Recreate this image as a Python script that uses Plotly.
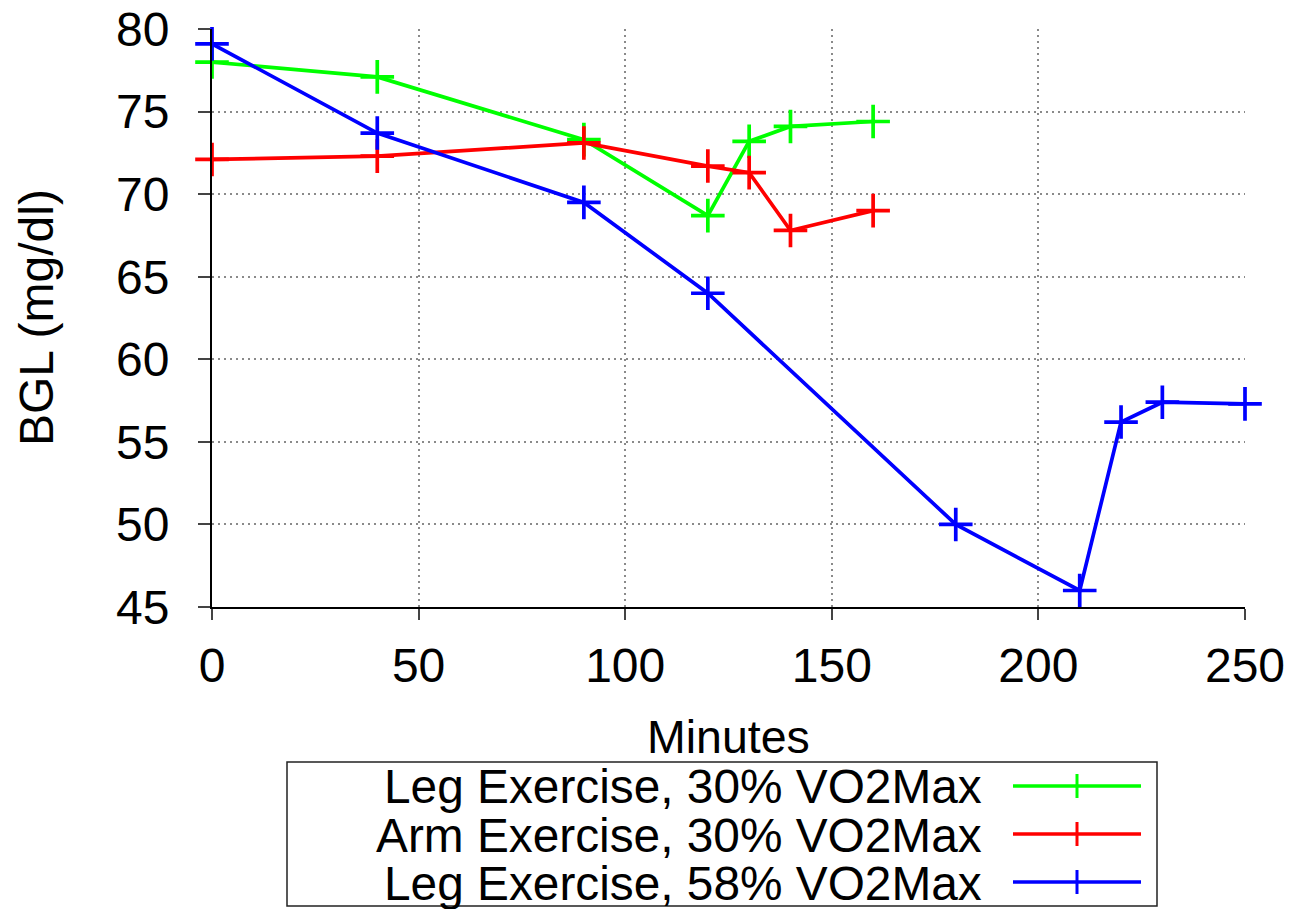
import plotly.graph_objects as go

# ---- data ----
leg30_x = [0, 40, 90, 120, 130, 140, 160]
leg30_y = [78.0, 77.1, 73.3, 68.7, 73.2, 74.1, 74.4]

arm30_x = [0, 40, 90, 120, 130, 140, 160]
arm30_y = [72.1, 72.3, 73.1, 71.7, 71.3, 67.8, 69.0]

leg58_x = [0, 40, 90, 120, 180, 210, 220, 230, 250]
leg58_y = [79.1, 73.7, 69.5, 64.0, 50.0, 46.0, 56.2, 57.4, 57.3]

series_names = ["Leg Exercise, 30% VO2Max", "Arm Exercise, 30% VO2Max", "Leg Exercise, 58% VO2Max"]
series_colors = ["#00ff00", "#ff0000", "#0000ff"]

x_ticks = [0, 50, 100, 150, 200, 250]
y_ticks = [45, 50, 55, 60, 65, 70, 75, 80]

FONT = "Liberation Sans, Arial, Helvetica, sans-serif"

W, H = 1308, 909
L, R, T, B = 212, 63, 29, 302
PW, PH = W - L - R, H - T - B


def px(xp):
    return (xp - L) / PW


def py(yp):
    return (H - B - yp) / PH


fig = go.Figure()
for xs, ys, name, col in zip([leg30_x, arm30_x, leg58_x], [leg30_y, arm30_y, leg58_y], series_names, series_colors):
    fig.add_trace(go.Scatter(
        x=xs, y=ys, name=name, mode="lines+markers",
        line=dict(color=col, width=3.7),
        marker=dict(symbol="cross-thin", size=24, line=dict(color=col, width=3.7), color=col),
        cliponaxis=False, showlegend=False, hoverinfo="skip",
    ))

shapes = []
annotations = []

# legend box
shapes.append(dict(type="rect", xref="paper", yref="paper",
                   x0=px(287), x1=px(1157), y0=py(906), y1=py(762),
                   line=dict(color="#222", width=1.5), fillcolor="white", layer="above"))
row_y = [787, 835, 883]
for name, col, ry in zip(series_names, series_colors, row_y):
    annotations.append(dict(xref="paper", yref="paper", x=px(983), y=py(ry),
                            xanchor="right", yanchor="middle", showarrow=False, borderpad=0,
                            text=name, font=dict(family=FONT, size=47.8, color="black")))
    shapes.append(dict(type="line", xref="paper", yref="paper",
                       x0=px(1013), x1=px(1141), y0=py(ry - 1), y1=py(ry - 1),
                       line=dict(color=col, width=3.5), layer="above"))
    shapes.append(dict(type="line", xref="paper", yref="paper",
                       x0=px(1077), x1=px(1077), y0=py(ry - 13), y1=py(ry + 11),
                       line=dict(color=col, width=3), layer="above"))

# axis titles
annotations.append(dict(xref="paper", yref="paper", x=0.5, y=py(737),
                        xanchor="center", yanchor="middle", showarrow=False, borderpad=0,
                        text="Minutes", font=dict(family=FONT, size=46.5, color="black")))
annotations.append(dict(xref="paper", yref="paper", x=px(36), y=0.5,
                        xanchor="center", yanchor="middle", showarrow=False, textangle=-90,
                        text="BGL (mg/dl)", font=dict(family=FONT, size=48, color="black")))

fig.update_layout(
    width=W, height=H,
    margin=dict(l=L, r=R, t=T, b=B, autoexpand=False),
    plot_bgcolor="white", paper_bgcolor="white",
    font=dict(family=FONT, size=48, color="black"),
    shapes=shapes, annotations=annotations,
    showlegend=False, hovermode=False,
)
fig.update_xaxes(
    range=[0, 250], tickvals=x_ticks, ticktext=[str(v) for v in x_ticks],
    showline=True, linecolor="black", linewidth=2,
    ticks="outside", ticklen=11, tickwidth=1.5, tickcolor="#444",
    ticklabelstandoff=4,
    showgrid=True, gridcolor="#8a8a8a", gridwidth=1.8, griddash="2px,4px",
    zeroline=False, tickfont=dict(family=FONT, size=48, color="black"),
    automargin=False,
)
fig.update_yaxes(
    range=[45, 80], tickvals=y_ticks, ticktext=[str(v) for v in y_ticks],
    showline=True, linecolor="black", linewidth=2,
    ticks="outside", ticklen=12, tickwidth=1.5, tickcolor="#444",
    ticklabelstandoff=19,
    showgrid=True, gridcolor="#8a8a8a", gridwidth=1.8, griddash="2px,4px",
    zeroline=False, tickfont=dict(family=FONT, size=48, color="black"),
    automargin=False,
)

fig.write_html("out.html", config={"displayModeBar": False},
               post_script="document.body.style.margin='0';document.body.style.padding='0';")
